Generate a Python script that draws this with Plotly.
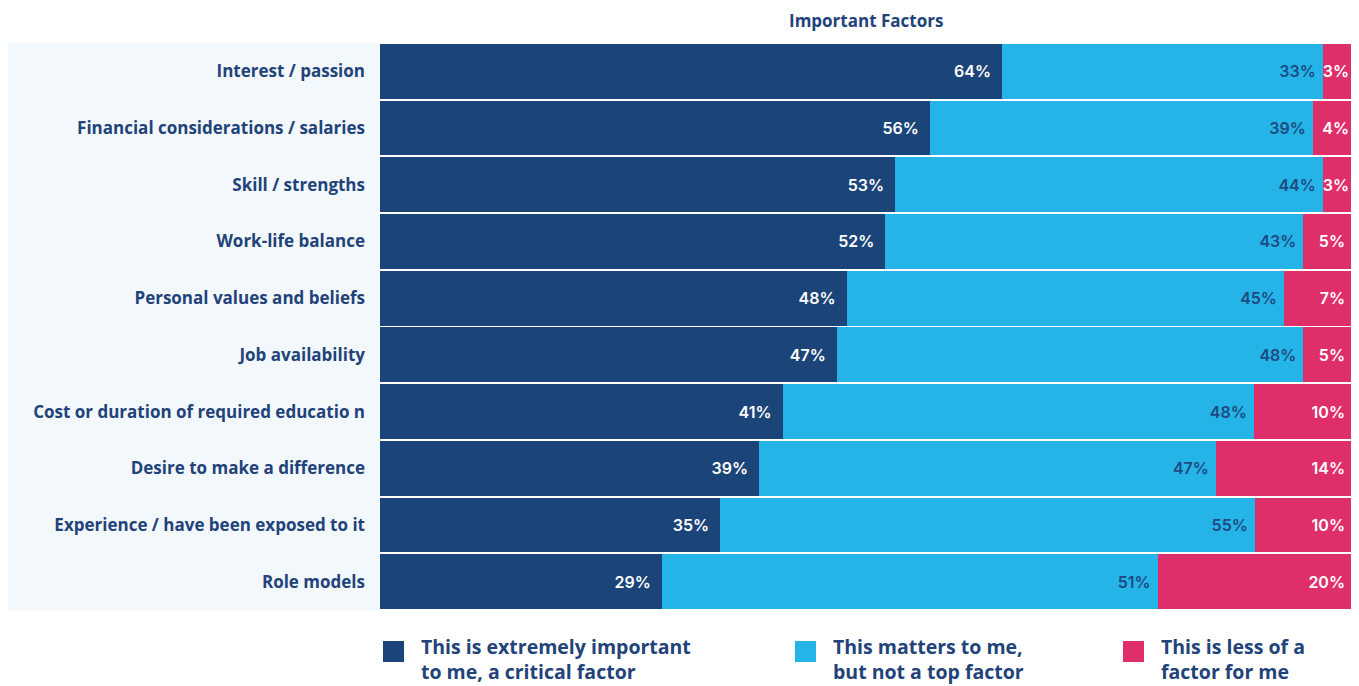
import plotly.graph_objects as go

categories = [
    "Interest / passion",
    "Financial considerations / salaries",
    "Skill / strengths",
    "Work-life balance",
    "Personal values and beliefs",
    "Job availability",
    "Cost or duration of required educatio n",
    "Desire to make a difference",
    "Experience / have been exposed to it",
    "Role models",
]
critical = [64, 56, 53, 52, 48, 47, 41, 39, 35, 29]
matters = [33, 39, 44, 43, 45, 48, 48, 47, 55, 51]
less = [3, 4, 3, 5, 7, 5, 10, 14, 10, 20]

series_names = [
    "This is extremely important<br>to me, a critical factor",
    "This matters to me,<br>but not a top factor",
    "This is less of a<br>factor for me",
]
colors = ["#1B4478", "#25B4E8", "#DF2F6B"]
text_colors = ["#FFFFFF", "#1E4A80", "#FFFFFF"]

NAVY = "#22427A"
FONT = "Open Sans"
NUMFONT = "Inter"
NBSP = "\u00a0"

# page body has an 8px margin; figure is sized to fit the 1359x686 window
W, H = 1351, 678
L, R, T, B = 372, 7, 35, 76
PW = W - L - R   # 972
PH = H - T - B   # 567


def labels(vals, pad):
    return [f"{v}%" + (pad if v >= 5 else "") for v in vals]


label_sets = [labels(critical, NBSP * 2), labels(matters, NBSP), labels(less, NBSP)]

fig = go.Figure()
for vals, txt, name, col, tcol in zip([critical, matters, less], label_sets,
                                      series_names, colors, text_colors):
    fig.add_trace(go.Bar(
        y=categories, x=vals, name=name, orientation="h",
        marker=dict(color=col, line=dict(width=0)),
        text=txt,
        textposition="inside", insidetextanchor="end", textangle=0,
        textfont=dict(color=tcol, size=16, family=NUMFONT, weight=600),
        constraintext="none", cliponaxis=False,
        showlegend=False,
        hoverinfo="skip",
    ))

fig.update_layout(
    barmode="stack", barnorm="percent", bargap=0.035,
    width=W, height=H,
    margin=dict(l=L, r=R, t=T, b=B),
    paper_bgcolor="white", plot_bgcolor="white",
    xaxis=dict(range=[0, 100.0001], visible=False, fixedrange=True),
    yaxis=dict(autorange="reversed", showgrid=False, zeroline=False,
               ticks="", ticklabelstandoff=14,
               tickfont=dict(color=NAVY, size=17, family=FONT, weight=700)),
    font=dict(family=FONT),
)

# light panel behind category labels
fig.add_shape(type="rect", xref="paper", yref="paper",
              x0=-L / PW, x1=0, y0=0, y1=1,
              fillcolor="#F3F8FC", line=dict(width=0), layer="below")

# title
fig.add_annotation(text="Important Factors", xref="paper", yref="paper",
                   x=0.5, y=1, yshift=23, yanchor="middle", showarrow=False,
                   borderpad=0,
                   font=dict(color=NAVY, size=17, family=FONT, weight=700))

# custom legend (page pixel positions of the swatches)
leg_sq_x = [383, 795, 1123]
for px, name, col in zip(leg_sq_x, series_names, colors):
    fx = px - 8
    fig.add_shape(type="rect", xref="paper", yref="paper",
                  x0=(fx - L) / PW, x1=(fx + 21 - L) / PW,
                  y0=-(641 - 610) / PH, y1=-(662 - 610) / PH,
                  fillcolor=col, line=dict(width=0))
    fig.add_annotation(text=name, xref="paper", yref="paper",
                       x=(fx + 37 - L) / PW, y=-(659 - 610) / PH,
                       xanchor="left", yanchor="middle", align="left",
                       showarrow=False, borderpad=0,
                       font=dict(color=NAVY, size=19.5, family=FONT, weight=700))

fig.write_html("out.html")
